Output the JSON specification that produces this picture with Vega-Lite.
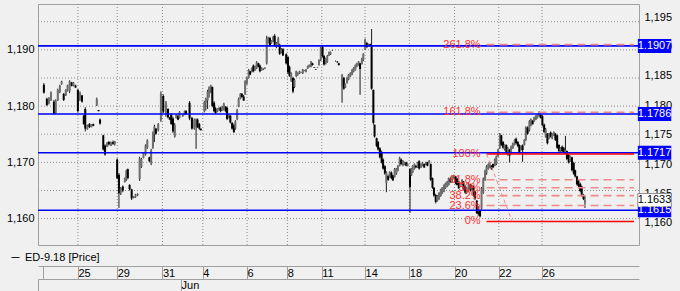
{
"$schema": "https://vega.github.io/schema/vega-lite/v6.json",
"width": 601, "height": 241,
"autosize": {"type": "none"},
"padding": {"left": 38, "top": 4, "right": 41, "bottom": 46},
"background": "#f0f0f0",
"config": {
  "view": {"stroke": "#a0a0a0", "strokeWidth": 1},
  "font": "Liberation Sans",
  "axis": {"labelFont": "Liberation Sans", "labelFontSize": 11, "labelColor": "#000000"},
  "legend": {"labelFont": "Liberation Sans"}
},
"datasets": {
"vgrid": [{"t":11.814},{"t":25.125},{"t":40.433},{"t":54.077},{"t":69.052},{"t":82.696},{"t":94.343},{"t":108.985},{"t":123.96},{"t":139.268},{"t":154.243},{"t":168.885}],
"hgrid": [{"v":1.16},{"v":1.165},{"v":1.17},{"v":1.175},{"v":1.18},{"v":1.185},{"v":1.19},{"v":1.195}],
"candles": [
{"t":0.3,"o":1.1838,"h":1.1841,"l":1.1822,"c":1.1824},
{"t":1.3,"o":1.1813,"h":1.1815,"l":1.1800,"c":1.1802},
{"t":2.0,"o":1.1805,"h":1.1816,"l":1.1803,"c":1.1814},
{"t":2.7,"o":1.1811,"h":1.1826,"l":1.1809,"c":1.1824},
{"t":3.7,"o":1.1808,"h":1.1811,"l":1.1785,"c":1.1787},
{"t":4.3,"o":1.1788,"h":1.1812,"l":1.1786,"c":1.1810},
{"t":5.0,"o":1.1811,"h":1.1831,"l":1.1809,"c":1.1829},
{"t":5.7,"o":1.1825,"h":1.1838,"l":1.1823,"c":1.1836},
{"t":6.3,"o":1.1839,"h":1.1845,"l":1.1838,"c":1.1844},
{"t":7.0,"o":1.1822,"h":1.1823,"l":1.1809,"c":1.1811},
{"t":7.7,"o":1.1819,"h":1.1830,"l":1.1818,"c":1.1829},
{"t":8.3,"o":1.1827,"h":1.1838,"l":1.1826,"c":1.1837},
{"t":9.0,"o":1.1826,"h":1.1846,"l":1.1823,"c":1.1844},
{"t":9.7,"o":1.1842,"h":1.1843,"l":1.1835,"c":1.1836},
{"t":10.3,"o":1.1836,"h":1.1843,"l":1.1835,"c":1.1842},
{"t":11.0,"o":1.1837,"h":1.1838,"l":1.1832,"c":1.1833},
{"t":11.8,"o":1.1829,"h":1.1830,"l":1.1789,"c":1.1791},
{"t":12.5,"o":1.1812,"h":1.1826,"l":1.1809,"c":1.1824},
{"t":13.2,"o":1.1819,"h":1.1820,"l":1.1806,"c":1.1808},
{"t":13.8,"o":1.1783,"h":1.1784,"l":1.1767,"c":1.1768},
{"t":14.3,"o":1.1795,"h":1.1798,"l":1.1755,"c":1.1760},
{"t":15.0,"o":1.1759,"h":1.1767,"l":1.1758,"c":1.1765},
{"t":15.7,"o":1.1768,"h":1.1770,"l":1.1761,"c":1.1763},
{"t":16.3,"o":1.1763,"h":1.1768,"l":1.1762,"c":1.1767},
{"t":17.0,"o":1.1768,"h":1.1769,"l":1.1764,"c":1.1765},
{"t":18.2,"o":1.1802,"h":1.1815,"l":1.1800,"c":1.1813},
{"t":18.8,"o":1.1793,"h":1.1793,"l":1.1791,"c":1.1791},
{"t":19.3,"o":1.1776,"h":1.1778,"l":1.1767,"c":1.1769},
{"t":20.4,"o":1.1748,"h":1.1749,"l":1.1721,"c":1.1723},
{"t":21.0,"o":1.1730,"h":1.1732,"l":1.1712,"c":1.1714},
{"t":21.7,"o":1.1728,"h":1.1736,"l":1.1727,"c":1.1735},
{"t":22.3,"o":1.1736,"h":1.1738,"l":1.1730,"c":1.1732},
{"t":23.0,"o":1.1730,"h":1.1737,"l":1.1729,"c":1.1736},
{"t":23.7,"o":1.1736,"h":1.1739,"l":1.1731,"c":1.1733},
{"t":24.3,"o":1.1733,"h":1.1738,"l":1.1730,"c":1.1737},
{"t":25.1,"o":1.1705,"h":1.1707,"l":1.1670,"c":1.1672},
{"t":25.7,"o":1.1678,"h":1.1681,"l":1.1619,"c":1.1645},
{"t":26.3,"o":1.1644,"h":1.1656,"l":1.1642,"c":1.1654},
{"t":27.0,"o":1.1657,"h":1.1659,"l":1.1647,"c":1.1650},
{"t":27.7,"o":1.1665,"h":1.1673,"l":1.1664,"c":1.1672},
{"t":28.2,"o":1.1669,"h":1.1687,"l":1.1667,"c":1.1685},
{"t":28.7,"o":1.1688,"h":1.1689,"l":1.1670,"c":1.1672},
{"t":29.3,"o":1.1660,"h":1.1661,"l":1.1650,"c":1.1652},
{"t":30.0,"o":1.1652,"h":1.1653,"l":1.1633,"c":1.1636},
{"t":30.7,"o":1.1637,"h":1.1640,"l":1.1636,"c":1.1639},
{"t":31.3,"o":1.1638,"h":1.1644,"l":1.1637,"c":1.1643},
{"t":32.0,"o":1.1641,"h":1.1645,"l":1.1640,"c":1.1644},
{"t":32.7,"o":1.1670,"h":1.1710,"l":1.1667,"c":1.1707},
{"t":33.3,"o":1.1692,"h":1.1708,"l":1.1690,"c":1.1706},
{"t":34.0,"o":1.1708,"h":1.1718,"l":1.1707,"c":1.1717},
{"t":34.7,"o":1.1714,"h":1.1732,"l":1.1712,"c":1.1730},
{"t":35.3,"o":1.1726,"h":1.1741,"l":1.1724,"c":1.1739},
{"t":36.0,"o":1.1709,"h":1.1710,"l":1.1701,"c":1.1702},
{"t":36.6,"o":1.1698,"h":1.1724,"l":1.1695,"c":1.1721},
{"t":37.2,"o":1.1726,"h":1.1755,"l":1.1724,"c":1.1752},
{"t":37.7,"o":1.1750,"h":1.1767,"l":1.1736,"c":1.1764},
{"t":38.2,"o":1.1760,"h":1.1761,"l":1.1749,"c":1.1751},
{"t":39.0,"o":1.1757,"h":1.1770,"l":1.1755,"c":1.1768},
{"t":39.9,"o":1.1775,"h":1.1826,"l":1.1772,"c":1.1822},
{"t":40.7,"o":1.1818,"h":1.1821,"l":1.1787,"c":1.1790},
{"t":41.6,"o":1.1785,"h":1.1809,"l":1.1781,"c":1.1806},
{"t":42.3,"o":1.1795,"h":1.1796,"l":1.1778,"c":1.1780},
{"t":42.9,"o":1.1780,"h":1.1781,"l":1.1775,"c":1.1776},
{"t":43.4,"o":1.1785,"h":1.1787,"l":1.1767,"c":1.1768},
{"t":44.0,"o":1.1778,"h":1.1781,"l":1.1752,"c":1.1755},
{"t":44.6,"o":1.1746,"h":1.1770,"l":1.1744,"c":1.1766},
{"t":45.1,"o":1.1779,"h":1.1786,"l":1.1778,"c":1.1785},
{"t":45.7,"o":1.1783,"h":1.1784,"l":1.1775,"c":1.1776},
{"t":46.2,"o":1.1779,"h":1.1791,"l":1.1778,"c":1.1790},
{"t":47.3,"o":1.1782,"h":1.1786,"l":1.1781,"c":1.1785},
{"t":47.9,"o":1.1785,"h":1.1792,"l":1.1784,"c":1.1791},
{"t":48.4,"o":1.1791,"h":1.1793,"l":1.1784,"c":1.1786},
{"t":49.6,"o":1.1806,"h":1.1809,"l":1.1775,"c":1.1778},
{"t":50.4,"o":1.1779,"h":1.1781,"l":1.1758,"c":1.1760},
{"t":51.2,"o":1.1760,"h":1.1778,"l":1.1758,"c":1.1776},
{"t":51.8,"o":1.1762,"h":1.1778,"l":1.1724,"c":1.1776},
{"t":52.3,"o":1.1776,"h":1.1778,"l":1.1761,"c":1.1763},
{"t":52.9,"o":1.1768,"h":1.1770,"l":1.1758,"c":1.1760},
{"t":53.4,"o":1.1760,"h":1.1760,"l":1.1757,"c":1.1757},
{"t":54.6,"o":1.1791,"h":1.1809,"l":1.1789,"c":1.1807},
{"t":55.1,"o":1.1806,"h":1.1815,"l":1.1792,"c":1.1813},
{"t":55.7,"o":1.1810,"h":1.1829,"l":1.1795,"c":1.1826},
{"t":56.2,"o":1.1824,"h":1.1835,"l":1.1815,"c":1.1833},
{"t":56.8,"o":1.1830,"h":1.1838,"l":1.1823,"c":1.1836},
{"t":57.3,"o":1.1834,"h":1.1835,"l":1.1798,"c":1.1800},
{"t":57.9,"o":1.1806,"h":1.1809,"l":1.1789,"c":1.1791},
{"t":58.4,"o":1.1796,"h":1.1798,"l":1.1786,"c":1.1788},
{"t":59.0,"o":1.1790,"h":1.1796,"l":1.1789,"c":1.1795},
{"t":59.6,"o":1.1793,"h":1.1798,"l":1.1792,"c":1.1797},
{"t":60.1,"o":1.1797,"h":1.1799,"l":1.1789,"c":1.1791},
{"t":60.7,"o":1.1793,"h":1.1800,"l":1.1792,"c":1.1799},
{"t":61.2,"o":1.1798,"h":1.1806,"l":1.1792,"c":1.1804},
{"t":61.8,"o":1.1799,"h":1.1800,"l":1.1789,"c":1.1791},
{"t":62.3,"o":1.1797,"h":1.1799,"l":1.1775,"c":1.1777},
{"t":62.9,"o":1.1779,"h":1.1786,"l":1.1778,"c":1.1785},
{"t":63.4,"o":1.1783,"h":1.1784,"l":1.1769,"c":1.1771},
{"t":64.0,"o":1.1770,"h":1.1772,"l":1.1758,"c":1.1760},
{"t":64.6,"o":1.1766,"h":1.1769,"l":1.1752,"c":1.1754},
{"t":65.1,"o":1.1760,"h":1.1775,"l":1.1758,"c":1.1773},
{"t":65.7,"o":1.1777,"h":1.1795,"l":1.1775,"c":1.1793},
{"t":66.2,"o":1.1799,"h":1.1815,"l":1.1798,"c":1.1813},
{"t":66.8,"o":1.1813,"h":1.1823,"l":1.1812,"c":1.1822},
{"t":67.3,"o":1.1822,"h":1.1823,"l":1.1815,"c":1.1816},
{"t":67.9,"o":1.1817,"h":1.1820,"l":1.1809,"c":1.1810},
{"t":68.4,"o":1.1822,"h":1.1846,"l":1.1820,"c":1.1844},
{"t":69.0,"o":1.1840,"h":1.1852,"l":1.1838,"c":1.1850},
{"t":69.6,"o":1.1850,"h":1.1866,"l":1.1849,"c":1.1864},
{"t":70.1,"o":1.1862,"h":1.1863,"l":1.1855,"c":1.1856},
{"t":70.7,"o":1.1861,"h":1.1869,"l":1.1860,"c":1.1867},
{"t":71.2,"o":1.1872,"h":1.1874,"l":1.1860,"c":1.1862},
{"t":71.8,"o":1.1864,"h":1.1872,"l":1.1863,"c":1.1870},
{"t":72.3,"o":1.1867,"h":1.1880,"l":1.1866,"c":1.1878},
{"t":72.9,"o":1.1876,"h":1.1877,"l":1.1869,"c":1.1870},
{"t":73.4,"o":1.1872,"h":1.1874,"l":1.1860,"c":1.1862},
{"t":74.0,"o":1.1864,"h":1.1869,"l":1.1863,"c":1.1868},
{"t":74.6,"o":1.1865,"h":1.1867,"l":1.1864,"c":1.1866},
{"t":75.1,"o":1.1867,"h":1.1869,"l":1.1866,"c":1.1868},
{"t":75.7,"o":1.1876,"h":1.1925,"l":1.1874,"c":1.1920},
{"t":76.2,"o":1.1913,"h":1.1923,"l":1.1911,"c":1.1921},
{"t":76.8,"o":1.1921,"h":1.1923,"l":1.1906,"c":1.1908},
{"t":77.3,"o":1.1912,"h":1.1917,"l":1.1911,"c":1.1916},
{"t":77.9,"o":1.1915,"h":1.1925,"l":1.1914,"c":1.1923},
{"t":78.4,"o":1.1925,"h":1.1928,"l":1.1906,"c":1.1908},
{"t":79.0,"o":1.1905,"h":1.1914,"l":1.1903,"c":1.1912},
{"t":79.6,"o":1.1910,"h":1.1923,"l":1.1906,"c":1.1920},
{"t":80.1,"o":1.1909,"h":1.1911,"l":1.1891,"c":1.1893},
{"t":80.7,"o":1.1895,"h":1.1903,"l":1.1894,"c":1.1901},
{"t":81.2,"o":1.1901,"h":1.1903,"l":1.1889,"c":1.1890},
{"t":82.3,"o":1.1892,"h":1.1894,"l":1.1874,"c":1.1876},
{"t":82.9,"o":1.1887,"h":1.1889,"l":1.1857,"c":1.1860},
{"t":83.4,"o":1.1870,"h":1.1872,"l":1.1852,"c":1.1854},
{"t":84.0,"o":1.1845,"h":1.1860,"l":1.1843,"c":1.1858},
{"t":84.6,"o":1.1850,"h":1.1852,"l":1.1823,"c":1.1826},
{"t":85.1,"o":1.1834,"h":1.1849,"l":1.1832,"c":1.1847},
{"t":85.7,"o":1.1853,"h":1.1863,"l":1.1852,"c":1.1862},
{"t":86.2,"o":1.1855,"h":1.1860,"l":1.1854,"c":1.1859},
{"t":86.8,"o":1.1858,"h":1.1863,"l":1.1857,"c":1.1862},
{"t":87.3,"o":1.1860,"h":1.1861,"l":1.1859,"c":1.1860},
{"t":87.9,"o":1.1858,"h":1.1866,"l":1.1857,"c":1.1865},
{"t":88.4,"o":1.1863,"h":1.1864,"l":1.1862,"c":1.1863},
{"t":89.0,"o":1.1861,"h":1.1866,"l":1.1860,"c":1.1865},
{"t":89.6,"o":1.1867,"h":1.1872,"l":1.1866,"c":1.1871},
{"t":90.1,"o":1.1870,"h":1.1874,"l":1.1869,"c":1.1873},
{"t":90.7,"o":1.1870,"h":1.1880,"l":1.1869,"c":1.1879},
{"t":91.2,"o":1.1876,"h":1.1877,"l":1.1872,"c":1.1873},
{"t":91.8,"o":1.1869,"h":1.1869,"l":1.1868,"c":1.1868},
{"t":92.3,"o":1.1866,"h":1.1866,"l":1.1865,"c":1.1865},
{"t":92.9,"o":1.1868,"h":1.1869,"l":1.1868,"c":1.1869},
{"t":93.4,"o":1.1873,"h":1.1883,"l":1.1872,"c":1.1882},
{"t":94.0,"o":1.1882,"h":1.1906,"l":1.1880,"c":1.1904},
{"t":94.6,"o":1.1905,"h":1.1908,"l":1.1886,"c":1.1889},
{"t":95.1,"o":1.1889,"h":1.1891,"l":1.1872,"c":1.1874},
{"t":95.7,"o":1.1876,"h":1.1886,"l":1.1874,"c":1.1884},
{"t":96.2,"o":1.1879,"h":1.1891,"l":1.1877,"c":1.1889},
{"t":96.8,"o":1.1890,"h":1.1897,"l":1.1889,"c":1.1896},
{"t":97.3,"o":1.1892,"h":1.1897,"l":1.1891,"c":1.1896},
{"t":97.9,"o":1.1899,"h":1.1900,"l":1.1898,"c":1.1899},
{"t":99.0,"o":1.1880,"h":1.1881,"l":1.1879,"c":1.1880},
{"t":99.6,"o":1.1879,"h":1.1880,"l":1.1877,"c":1.1878},
{"t":100.1,"o":1.1876,"h":1.1877,"l":1.1872,"c":1.1873},
{"t":101.2,"o":1.1835,"h":1.1857,"l":1.1806,"c":1.1855},
{"t":101.8,"o":1.1850,"h":1.1852,"l":1.1829,"c":1.1831},
{"t":102.3,"o":1.1833,"h":1.1840,"l":1.1832,"c":1.1839},
{"t":102.9,"o":1.1841,"h":1.1852,"l":1.1840,"c":1.1850},
{"t":103.4,"o":1.1847,"h":1.1857,"l":1.1846,"c":1.1856},
{"t":104.0,"o":1.1853,"h":1.1860,"l":1.1852,"c":1.1859},
{"t":104.6,"o":1.1856,"h":1.1866,"l":1.1855,"c":1.1864},
{"t":105.1,"o":1.1861,"h":1.1869,"l":1.1860,"c":1.1868},
{"t":105.7,"o":1.1864,"h":1.1874,"l":1.1863,"c":1.1873},
{"t":106.2,"o":1.1870,"h":1.1877,"l":1.1869,"c":1.1876},
{"t":106.8,"o":1.1873,"h":1.1880,"l":1.1872,"c":1.1879},
{"t":107.3,"o":1.1876,"h":1.1877,"l":1.1820,"c":1.1866},
{"t":107.9,"o":1.1875,"h":1.1886,"l":1.1874,"c":1.1884},
{"t":108.4,"o":1.1882,"h":1.1894,"l":1.1880,"c":1.1893},
{"t":109.0,"o":1.1902,"h":1.1920,"l":1.1900,"c":1.1918},
{"t":109.6,"o":1.1912,"h":1.1914,"l":1.1903,"c":1.1905},
{"t":110.1,"o":1.1907,"h":1.1911,"l":1.1906,"c":1.1910},
{"t":110.7,"o":1.1910,"h":1.1911,"l":1.1906,"c":1.1907},
{"t":111.2,"o":1.1908,"h":1.1937,"l":1.1829,"c":1.1831},
{"t":111.8,"o":1.1829,"h":1.1829,"l":1.1767,"c":1.1770},
{"t":112.2,"o":1.1767,"h":1.1767,"l":1.1744,"c":1.1746},
{"t":112.9,"o":1.1743,"h":1.1744,"l":1.1727,"c":1.1729},
{"t":113.4,"o":1.1736,"h":1.1738,"l":1.1721,"c":1.1723},
{"t":114.0,"o":1.1725,"h":1.1727,"l":1.1707,"c":1.1709},
{"t":114.6,"o":1.1718,"h":1.1721,"l":1.1698,"c":1.1700},
{"t":115.1,"o":1.1705,"h":1.1707,"l":1.1687,"c":1.1689},
{"t":115.7,"o":1.1693,"h":1.1695,"l":1.1678,"c":1.1680},
{"t":116.2,"o":1.1663,"h":1.1684,"l":1.1647,"c":1.1682},
{"t":116.8,"o":1.1676,"h":1.1678,"l":1.1667,"c":1.1669},
{"t":117.3,"o":1.1674,"h":1.1684,"l":1.1673,"c":1.1683},
{"t":117.9,"o":1.1682,"h":1.1684,"l":1.1670,"c":1.1672},
{"t":118.4,"o":1.1677,"h":1.1678,"l":1.1667,"c":1.1668},
{"t":119.0,"o":1.1674,"h":1.1690,"l":1.1673,"c":1.1688},
{"t":119.6,"o":1.1680,"h":1.1690,"l":1.1678,"c":1.1689},
{"t":120.1,"o":1.1685,"h":1.1695,"l":1.1684,"c":1.1694},
{"t":120.7,"o":1.1694,"h":1.1710,"l":1.1693,"c":1.1708},
{"t":121.2,"o":1.1705,"h":1.1707,"l":1.1695,"c":1.1697},
{"t":121.8,"o":1.1695,"h":1.1704,"l":1.1693,"c":1.1703},
{"t":122.3,"o":1.1696,"h":1.1701,"l":1.1695,"c":1.1700},
{"t":122.9,"o":1.1700,"h":1.1701,"l":1.1693,"c":1.1694},
{"t":123.4,"o":1.1694,"h":1.1698,"l":1.1693,"c":1.1697},
{"t":124.2,"o":1.1688,"h":1.1690,"l":1.1610,"c":1.1656},
{"t":124.7,"o":1.1677,"h":1.1690,"l":1.1676,"c":1.1689},
{"t":125.1,"o":1.1682,"h":1.1695,"l":1.1681,"c":1.1694},
{"t":125.7,"o":1.1688,"h":1.1698,"l":1.1687,"c":1.1697},
{"t":126.2,"o":1.1694,"h":1.1695,"l":1.1690,"c":1.1691},
{"t":126.8,"o":1.1691,"h":1.1701,"l":1.1690,"c":1.1700},
{"t":127.3,"o":1.1702,"h":1.1704,"l":1.1687,"c":1.1689},
{"t":127.9,"o":1.1691,"h":1.1698,"l":1.1690,"c":1.1697},
{"t":128.4,"o":1.1694,"h":1.1701,"l":1.1693,"c":1.1700},
{"t":129.0,"o":1.1697,"h":1.1698,"l":1.1690,"c":1.1691},
{"t":129.6,"o":1.1696,"h":1.1701,"l":1.1695,"c":1.1700},
{"t":130.1,"o":1.1700,"h":1.1701,"l":1.1693,"c":1.1694},
{"t":130.7,"o":1.1699,"h":1.1704,"l":1.1698,"c":1.1703},
{"t":131.2,"o":1.1697,"h":1.1698,"l":1.1667,"c":1.1669},
{"t":131.8,"o":1.1672,"h":1.1673,"l":1.1653,"c":1.1655},
{"t":132.3,"o":1.1655,"h":1.1656,"l":1.1639,"c":1.1641},
{"t":132.9,"o":1.1642,"h":1.1644,"l":1.1627,"c":1.1630},
{"t":133.4,"o":1.1632,"h":1.1642,"l":1.1630,"c":1.1640},
{"t":134.0,"o":1.1635,"h":1.1647,"l":1.1633,"c":1.1646},
{"t":134.6,"o":1.1640,"h":1.1653,"l":1.1639,"c":1.1652},
{"t":135.1,"o":1.1645,"h":1.1656,"l":1.1644,"c":1.1655},
{"t":135.7,"o":1.1648,"h":1.1661,"l":1.1647,"c":1.1660},
{"t":136.2,"o":1.1654,"h":1.1664,"l":1.1653,"c":1.1663},
{"t":136.8,"o":1.1657,"h":1.1667,"l":1.1656,"c":1.1666},
{"t":137.3,"o":1.1660,"h":1.1673,"l":1.1659,"c":1.1672},
{"t":137.9,"o":1.1671,"h":1.1673,"l":1.1664,"c":1.1665},
{"t":138.4,"o":1.1665,"h":1.1676,"l":1.1664,"c":1.1675},
{"t":139.0,"o":1.1671,"h":1.1678,"l":1.1670,"c":1.1677},
{"t":139.6,"o":1.1675,"h":1.1676,"l":1.1661,"c":1.1663},
{"t":140.1,"o":1.1671,"h":1.1673,"l":1.1659,"c":1.1660},
{"t":140.7,"o":1.1666,"h":1.1667,"l":1.1653,"c":1.1654},
{"t":141.2,"o":1.1657,"h":1.1664,"l":1.1656,"c":1.1663},
{"t":141.8,"o":1.1660,"h":1.1670,"l":1.1659,"c":1.1669},
{"t":142.3,"o":1.1666,"h":1.1667,"l":1.1650,"c":1.1652},
{"t":142.9,"o":1.1657,"h":1.1659,"l":1.1644,"c":1.1646},
{"t":143.4,"o":1.1646,"h":1.1656,"l":1.1644,"c":1.1654},
{"t":144.0,"o":1.1649,"h":1.1664,"l":1.1647,"c":1.1662},
{"t":144.7,"o":1.1660,"h":1.1662,"l":1.1648,"c":1.1650},
{"t":145.2,"o":1.1652,"h":1.1660,"l":1.1650,"c":1.1658},
{"t":145.7,"o":1.1657,"h":1.1659,"l":1.1639,"c":1.1641},
{"t":146.2,"o":1.1648,"h":1.1650,"l":1.1633,"c":1.1636},
{"t":146.8,"o":1.1632,"h":1.1633,"l":1.1608,"c":1.1610},
{"t":147.3,"o":1.1612,"h":1.1622,"l":1.1605,"c":1.1608},
{"t":147.9,"o":1.1615,"h":1.1616,"l":1.1602,"c":1.1604},
{"t":148.4,"o":1.1618,"h":1.1656,"l":1.1616,"c":1.1654},
{"t":149.0,"o":1.1646,"h":1.1673,"l":1.1644,"c":1.1671},
{"t":149.6,"o":1.1669,"h":1.1687,"l":1.1667,"c":1.1685},
{"t":150.1,"o":1.1680,"h":1.1695,"l":1.1678,"c":1.1693},
{"t":150.7,"o":1.1688,"h":1.1698,"l":1.1687,"c":1.1697},
{"t":151.2,"o":1.1691,"h":1.1701,"l":1.1690,"c":1.1700},
{"t":151.8,"o":1.1694,"h":1.1695,"l":1.1687,"c":1.1688},
{"t":152.3,"o":1.1697,"h":1.1698,"l":1.1690,"c":1.1691},
{"t":152.9,"o":1.1694,"h":1.1707,"l":1.1693,"c":1.1705},
{"t":153.4,"o":1.1697,"h":1.1712,"l":1.1695,"c":1.1711},
{"t":154.0,"o":1.1711,"h":1.1724,"l":1.1710,"c":1.1723},
{"t":154.6,"o":1.1726,"h":1.1752,"l":1.1724,"c":1.1750},
{"t":155.1,"o":1.1748,"h":1.1749,"l":1.1729,"c":1.1731},
{"t":155.7,"o":1.1736,"h":1.1738,"l":1.1724,"c":1.1726},
{"t":156.2,"o":1.1723,"h":1.1732,"l":1.1721,"c":1.1731},
{"t":156.8,"o":1.1731,"h":1.1732,"l":1.1715,"c":1.1717},
{"t":157.3,"o":1.1714,"h":1.1727,"l":1.1712,"c":1.1725},
{"t":157.9,"o":1.1722,"h":1.1724,"l":1.1700,"c":1.1712},
{"t":158.4,"o":1.1716,"h":1.1730,"l":1.1715,"c":1.1728},
{"t":159.0,"o":1.1725,"h":1.1735,"l":1.1724,"c":1.1734},
{"t":159.6,"o":1.1731,"h":1.1741,"l":1.1730,"c":1.1740},
{"t":160.1,"o":1.1742,"h":1.1744,"l":1.1732,"c":1.1734},
{"t":160.7,"o":1.1736,"h":1.1738,"l":1.1727,"c":1.1729},
{"t":161.2,"o":1.1731,"h":1.1732,"l":1.1715,"c":1.1717},
{"t":161.8,"o":1.1722,"h":1.1730,"l":1.1721,"c":1.1729},
{"t":162.3,"o":1.1730,"h":1.1732,"l":1.1701,"c":1.1722},
{"t":162.9,"o":1.1731,"h":1.1741,"l":1.1730,"c":1.1740},
{"t":163.4,"o":1.1740,"h":1.1764,"l":1.1738,"c":1.1762},
{"t":164.0,"o":1.1762,"h":1.1764,"l":1.1749,"c":1.1751},
{"t":164.6,"o":1.1757,"h":1.1775,"l":1.1755,"c":1.1773},
{"t":165.1,"o":1.1765,"h":1.1778,"l":1.1764,"c":1.1777},
{"t":165.7,"o":1.1774,"h":1.1775,"l":1.1767,"c":1.1768},
{"t":166.2,"o":1.1773,"h":1.1781,"l":1.1772,"c":1.1780},
{"t":166.8,"o":1.1776,"h":1.1784,"l":1.1775,"c":1.1783},
{"t":167.3,"o":1.1779,"h":1.1786,"l":1.1778,"c":1.1785},
{"t":167.9,"o":1.1782,"h":1.1791,"l":1.1781,"c":1.1788},
{"t":168.4,"o":1.1785,"h":1.1786,"l":1.1778,"c":1.1779},
{"t":169.0,"o":1.1782,"h":1.1784,"l":1.1764,"c":1.1766},
{"t":169.6,"o":1.1767,"h":1.1769,"l":1.1752,"c":1.1754},
{"t":170.1,"o":1.1746,"h":1.1761,"l":1.1744,"c":1.1759},
{"t":170.7,"o":1.1751,"h":1.1752,"l":1.1732,"c":1.1734},
{"t":171.2,"o":1.1742,"h":1.1752,"l":1.1741,"c":1.1751},
{"t":171.8,"o":1.1753,"h":1.1755,"l":1.1744,"c":1.1746},
{"t":172.3,"o":1.1743,"h":1.1752,"l":1.1741,"c":1.1750},
{"t":172.9,"o":1.1748,"h":1.1755,"l":1.1747,"c":1.1754},
{"t":173.4,"o":1.1751,"h":1.1752,"l":1.1738,"c":1.1740},
{"t":174.0,"o":1.1748,"h":1.1749,"l":1.1724,"c":1.1726},
{"t":174.6,"o":1.1731,"h":1.1732,"l":1.1718,"c":1.1720},
{"t":175.1,"o":1.1719,"h":1.1727,"l":1.1718,"c":1.1726},
{"t":175.7,"o":1.1728,"h":1.1730,"l":1.1718,"c":1.1720},
{"t":176.2,"o":1.1726,"h":1.1727,"l":1.1715,"c":1.1717},
{"t":176.8,"o":1.1716,"h":1.1747,"l":1.1715,"c":1.1722},
{"t":177.3,"o":1.1720,"h":1.1721,"l":1.1704,"c":1.1706},
{"t":177.9,"o":1.1713,"h":1.1715,"l":1.1698,"c":1.1700},
{"t":178.4,"o":1.1702,"h":1.1712,"l":1.1701,"c":1.1711},
{"t":179.0,"o":1.1709,"h":1.1710,"l":1.1684,"c":1.1686},
{"t":179.6,"o":1.1699,"h":1.1701,"l":1.1678,"c":1.1680},
{"t":180.1,"o":1.1686,"h":1.1687,"l":1.1673,"c":1.1675},
{"t":180.7,"o":1.1675,"h":1.1676,"l":1.1659,"c":1.1661},
{"t":181.2,"o":1.1668,"h":1.1670,"l":1.1656,"c":1.1658},
{"t":181.8,"o":1.1662,"h":1.1664,"l":1.1647,"c":1.1649},
{"t":182.3,"o":1.1657,"h":1.1659,"l":1.1639,"c":1.1641},
{"t":182.9,"o":1.1642,"h":1.1644,"l":1.1633,"c":1.1635},
{"t":183.4,"o":1.1629,"h":1.1640,"l":1.1619,"c":1.1633}
],
"levels": [{"v":1.1907,"lab":"1.1907"},{"v":1.1786,"lab":"1.1786"},{"v":1.1717,"lab":"1.1717"},{"v":1.1615,"lab":"1.1615"}],
"fib": [{"lab":"261.8%","v":1.19092,"k":"d"},{"lab":"161.8%","v":1.17892,"k":"d"},{"lab":"100%","v":1.1715,"k":"s"},{"lab":"61.8%","v":1.16692,"k":"d"},{"lab":"50%","v":1.1655,"k":"d"},{"lab":"38.2%","v":1.16408,"k":"d"},{"lab":"23.6%","v":1.16233,"k":"d"},{"lab":"0%","v":1.1595,"k":"s"}],
"diag": [{"t":150.1,"v":1.1715},{"t":158.8,"v":1.1595}],
"last": [{"v":1.1633,"lab":"1.1633"}]
},
"layer": [
{
"layer": [
{
"data": {"name": "vgrid"},
"mark": {"type": "rule", "color": "#8c8c8c", "strokeWidth": 1, "strokeDash": [1, 2]},
"encoding": {
"x": {"field": "t", "type": "quantitative", "scale": {"domain": [0, 200], "nice": false, "zero": false}}
}
},
{
"data": {"name": "hgrid"},
"mark": {"type": "rule", "color": "#8c8c8c", "strokeWidth": 1, "strokeDash": [1, 2]},
"encoding": {
"y": {"field": "v", "type": "quantitative", "scale": {"domain": [1.1562, 1.19726], "nice": false, "zero": false}}
}
},
{
"data": {"name": "candles"},
"mark": {"type": "rule", "strokeWidth": 1},
"encoding": {
"x": {"field": "t", "type": "quantitative", "scale": {"domain": [0, 200], "nice": false, "zero": false},
  "axis": {"orient": "bottom", "offset": 21, "title": null,
    "values": [0, 11.814, 25.125, 40.433, 54.077, 69.052, 82.696, 94.343, 108.985, 123.96, 139.268, 154.243, 168.885],
    "labelExpr": "datum.value < 5 ? '' : datum.value < 20 ? '25' : datum.value < 30 ? '29' : datum.value < 45 ? '31' : datum.value < 60 ? '4' : datum.value < 75 ? '6' : datum.value < 88 ? '8' : datum.value < 100 ? '11' : datum.value < 115 ? '14' : datum.value < 130 ? '18' : datum.value < 145 ? '20' : datum.value < 160 ? '22' : '26'",
    "grid": false,
    "domain": true, "domainColor": "#a0a0a0", "ticks": true, "tickSize": 13, "tickColor": "#a0a0a0",
    "labelAlign": "left", "labelBaseline": "alphabetic", "labelPadding": -3, "labelDx": 3,
    "labelFlush": false, "labelOverlap": false, "labelBound": false}},
"y": {"field": "l", "type": "quantitative", "scale": {"domain": [1.1562, 1.19726], "nice": false, "zero": false},
  "axis": {"orient": "left", "title": null, "values": [1.16, 1.165, 1.17, 1.175, 1.18, 1.185, 1.19, 1.195],
    "labelExpr": "replace(format(datum.value, '.3f'), '.', ',')",
    "grid": false, "ticks": false, "domain": false, "labelPadding": 4}},
"y2": {"field": "h"},
"stroke": {"datum": "ED-9.18 [Price]", "type": "nominal", "scale": {"range": ["#1a1a1a"]},
  "legend": {"orient": "none", "legendX": -28, "legendY": 248, "title": null, "symbolType": "stroke", "symbolSize": 64,
    "symbolStrokeWidth": 1, "symbolStrokeColor": "#333333", "labelFontSize": 11, "labelColor": "#000000", "labelOffset": 4, "padding": 0}}
}
},
{
"data": {"name": "candles"},
"mark": {"type": "bar", "width": 2},
"encoding": {
"x": {"field": "t", "type": "quantitative", "scale": {"domain": [0, 200], "nice": false, "zero": false}},
"y": {"field": "o", "type": "quantitative", "scale": {"domain": [1.1562, 1.19726], "nice": false, "zero": false}},
"y2": {"field": "c"},
"color": {"condition": {"test": "datum.c < datum.o", "value": "#000000"}, "value": "#6e6e6e"}
}
},
{
"data": {"name": "levels"},
"mark": {"type": "rule", "color": "#0000ff", "strokeWidth": 1.6},
"encoding": {
"y": {"field": "v", "type": "quantitative", "scale": {"domain": [1.1562, 1.19726], "nice": false, "zero": false}}
}
},
{
"data": {"name": "fib"},
"transform": [{"filter": "datum.k == 'd'"}],
"mark": {"type": "rule", "color": "#f08a8a", "strokeWidth": 1.6, "strokeDash": [8, 5]},
"encoding": {
"x": {"datum": 150.1, "type": "quantitative", "scale": {"domain": [0, 200], "nice": false, "zero": false}},
"x2": {"datum": 200},
"y": {"field": "v", "type": "quantitative", "scale": {"domain": [1.1562, 1.19726], "nice": false, "zero": false}}
}
},
{
"data": {"name": "fib"},
"transform": [{"filter": "datum.k == 's'"}],
"mark": {"type": "rule", "color": "#ff0000", "strokeWidth": 1.5},
"encoding": {
"x": {"datum": 150.1, "type": "quantitative", "scale": {"domain": [0, 200], "nice": false, "zero": false}},
"x2": {"datum": 200},
"y": {"field": "v", "type": "quantitative", "scale": {"domain": [1.1562, 1.19726], "nice": false, "zero": false}}
}
},
{
"data": {"name": "diag"},
"mark": {"type": "line", "color": "#f08a8a", "strokeWidth": 1, "strokeDash": [4, 3]},
"encoding": {
"x": {"field": "t", "type": "quantitative", "scale": {"domain": [0, 200], "nice": false, "zero": false}},
"y": {"field": "v", "type": "quantitative", "scale": {"domain": [1.1562, 1.19726], "nice": false, "zero": false}}
}
},
{
"data": {"name": "fib"},
"mark": {"type": "text", "align": "right", "baseline": "middle", "fontSize": 11, "font": "Liberation Sans", "color": "#ff3333"},
"encoding": {
"x": {"datum": 148.1, "type": "quantitative", "scale": {"domain": [0, 200], "nice": false, "zero": false}},
"y": {"field": "v", "type": "quantitative", "scale": {"domain": [1.1562, 1.19726], "nice": false, "zero": false}},
"text": {"field": "lab"}
}
},
{
"data": {"name": "levels"},
"mark": {"type": "bar", "height": 14, "color": "#0000ff"},
"encoding": {
"x": {"datum": 201.3, "type": "quantitative", "scale": {"domain": [0, 200], "nice": false, "zero": false}},
"x2": {"datum": 212.6},
"y": {"field": "v", "type": "quantitative", "scale": {"domain": [1.1562, 1.19726], "nice": false, "zero": false}}
}
},
{
"data": {"name": "last"},
"mark": {"type": "bar", "height": 13, "fill": "#ffffff", "stroke": "#8c8c8c", "strokeWidth": 1},
"encoding": {
"x": {"datum": 201.3, "type": "quantitative", "scale": {"domain": [0, 200], "nice": false, "zero": false}},
"x2": {"datum": 212.6},
"y": {"field": "v", "type": "quantitative", "scale": {"domain": [1.1562, 1.19726], "nice": false, "zero": false}}
}
},
{
"data": {"name": "levels"},
"mark": {"type": "text", "align": "center", "baseline": "middle", "fontSize": 11, "font": "Liberation Sans", "color": "#ffffff"},
"encoding": {
"x": {"datum": 206.95, "type": "quantitative", "scale": {"domain": [0, 200], "nice": false, "zero": false}},
"y": {"field": "v", "type": "quantitative", "scale": {"domain": [1.1562, 1.19726], "nice": false, "zero": false}},
"text": {"field": "lab"}
}
},
{
"data": {"name": "last"},
"mark": {"type": "text", "align": "center", "baseline": "middle", "fontSize": 11, "font": "Liberation Sans", "color": "#000000"},
"encoding": {
"x": {"datum": 206.95, "type": "quantitative", "scale": {"domain": [0, 200], "nice": false, "zero": false}},
"y": {"field": "v", "type": "quantitative", "scale": {"domain": [1.1562, 1.19726], "nice": false, "zero": false}},
"text": {"field": "lab"}
}
}
]
},
{
"data": {"values": [{"t": 0, "v": 1.17}]},
"mark": {"type": "point", "opacity": 0},
"encoding": {
"x": {"field": "t", "type": "quantitative", "scale": {"domain": [0, 200], "nice": false, "zero": false},
  "axis": {"orient": "bottom", "offset": 34, "title": null, "values": [0, 47.59],
    "labelExpr": "datum.value > 1 ? 'Jun' : ''", "grid": false,
    "domain": true, "domainColor": "#a0a0a0", "ticks": true, "tickSize": 12, "tickColor": "#a0a0a0",
    "labelAlign": "left", "labelBaseline": "alphabetic", "labelPadding": -3, "labelDx": 2,
    "labelFlush": false, "labelOverlap": false, "labelBound": false}},
"y": {"field": "v", "type": "quantitative", "scale": {"domain": [1.1562, 1.19726], "nice": false, "zero": false},
  "axis": {"orient": "right", "title": null, "values": [1.16, 1.165, 1.17, 1.175, 1.18, 1.185, 1.19, 1.195],
    "labelExpr": "replace(format(datum.value, '.3f'), '.', ',')",
    "grid": false, "ticks": false, "domain": false, "labelPadding": 5}}
}
}
],
"resolve": {"scale": {"x": "independent", "y": "independent"}}
}
